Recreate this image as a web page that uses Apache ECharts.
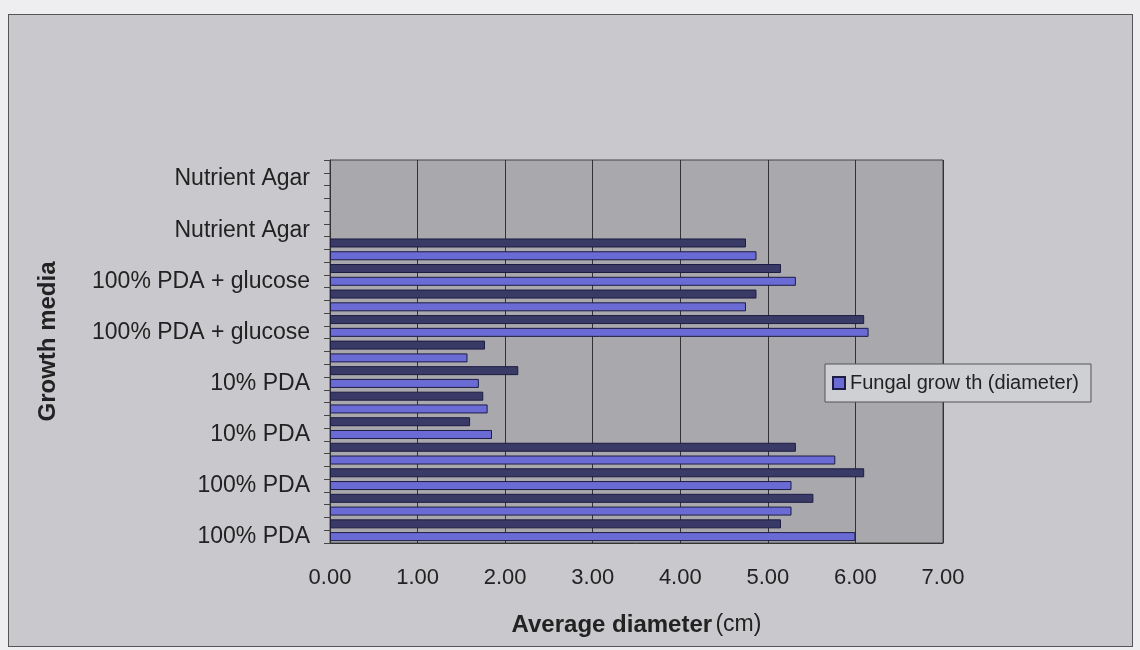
<!DOCTYPE html>
<html>
<head>
<meta charset="utf-8">
<script src="https://cdn.jsdelivr.net/npm/echarts@6/dist/echarts.min.js"></script>
<style>
  html, body { margin: 0; padding: 0; background: #eeeef0; }
  #wrap { position: relative; width: 1140px; height: 650px; }
  #frame { position: absolute; left: 8px; top: 14px; width: 1123px; height: 631px;
           background: #c9c9cd; border: 1px solid #555; }
  #chart { position: absolute; left: 0; top: 0; width: 1140px; height: 650px; }
</style>
</head>
<body>
<div id="wrap">
  <div id="frame"></div>
  <div id="chart"></div>
</div>
<script>
// one label per group of 4 bars, bottom to top
var groupLabels = ['100% PDA', '100% PDA', '10% PDA', '10% PDA',
  '100% PDA + glucose', '100% PDA + glucose', 'Nutrient Agar', 'Nutrient Agar'];
// average diameter (cm), bottom bar first
var diameters = [
  6.00, 5.15, 5.27, 5.52, 5.27, 6.10, 5.77, 5.32,
  1.85, 1.60, 1.80, 1.75, 1.70, 2.15, 1.57, 1.77,
  6.15, 6.10, 4.75, 4.87, 5.32, 5.15, 4.87, 4.75,
  0, 0, 0, 0, 0, 0
];
var xTicks = ['0.00', '1.00', '2.00', '3.00', '4.00', '5.00', '6.00', '7.00'];
var seriesName = 'Fungal grow th (diameter)';

var slots = diameters.map(function (v, i) { return String(i); });

var chart = echarts.init(document.getElementById('chart'));
var option = {
  backgroundColor: 'transparent',
  textStyle: { fontFamily: 'Liberation Sans, Arial, sans-serif' },
  grid: {
    left: 330, right: 197, top: 160, bottom: 107,
    show: true, backgroundColor: '#a9a9ad', borderColor: '#444', borderWidth: 1
  },
  legend: {
    left: 825, top: 364,
    orient: 'vertical',
    backgroundColor: '#cfd0d4',
    borderColor: '#555', borderWidth: 1,
    padding: [9, 12, 9, 7],
    itemWidth: 12, itemHeight: 12,
    icon: 'rect',
    textStyle: { fontSize: 20, color: '#222' },
    data: [seriesName]
  },
  xAxis: {
    type: 'value',
    min: 0, max: 7, interval: 1,
    axisLine: { show: true, lineStyle: { color: '#333' } },
    axisTick: { show: false },
    splitLine: { show: true, lineStyle: { color: '#333', width: 1 } },
    axisLabel: {
      fontSize: 22, color: '#222', margin: 24,
      formatter: function (v) { return xTicks[v]; }
    },
    name: '{b|Average diameter} {n|(cm)}',
    nameLocation: 'middle',
    nameGap: 70,
    nameTextStyle: {
      rich: {
        b: { fontSize: 24, fontWeight: 'bold', color: '#222' },
        n: { fontSize: 23, color: '#222' }
      }
    }
  },
  yAxis: {
    type: 'category',
    data: slots,
    axisLine: { show: true, lineStyle: { color: '#333' } },
    axisTick: { show: true, interval: 0, length: 6, lineStyle: { color: '#444' } },
    splitLine: { show: false },
    axisLabel: {
      interval: 3, fontSize: 23, color: '#222', margin: 20,
      formatter: function (v, i) { return groupLabels[Math.floor(i / 4)]; }
    },
    name: 'Growth media',
    nameLocation: 'middle',
    nameGap: 270,
    nameTextStyle: { fontSize: 24, fontWeight: 'bold', color: '#222', padding: [0, 0, 0, 20] }
  },
  series: [{
    name: seriesName,
    type: 'bar',
    barWidth: 9,
    itemStyle: { color: '#6b6bd6', borderColor: '#1c1c44', borderWidth: 1 },
    data: diameters.map(function (v, i) {
      if (v === 0) return { value: v, itemStyle: { borderWidth: 0 } };
      return i % 2 === 1 ? { value: v, itemStyle: { color: '#3a3a66' } } : v;
    })
  }]
};
chart.setOption(option);
</script>
</body>
</html>
